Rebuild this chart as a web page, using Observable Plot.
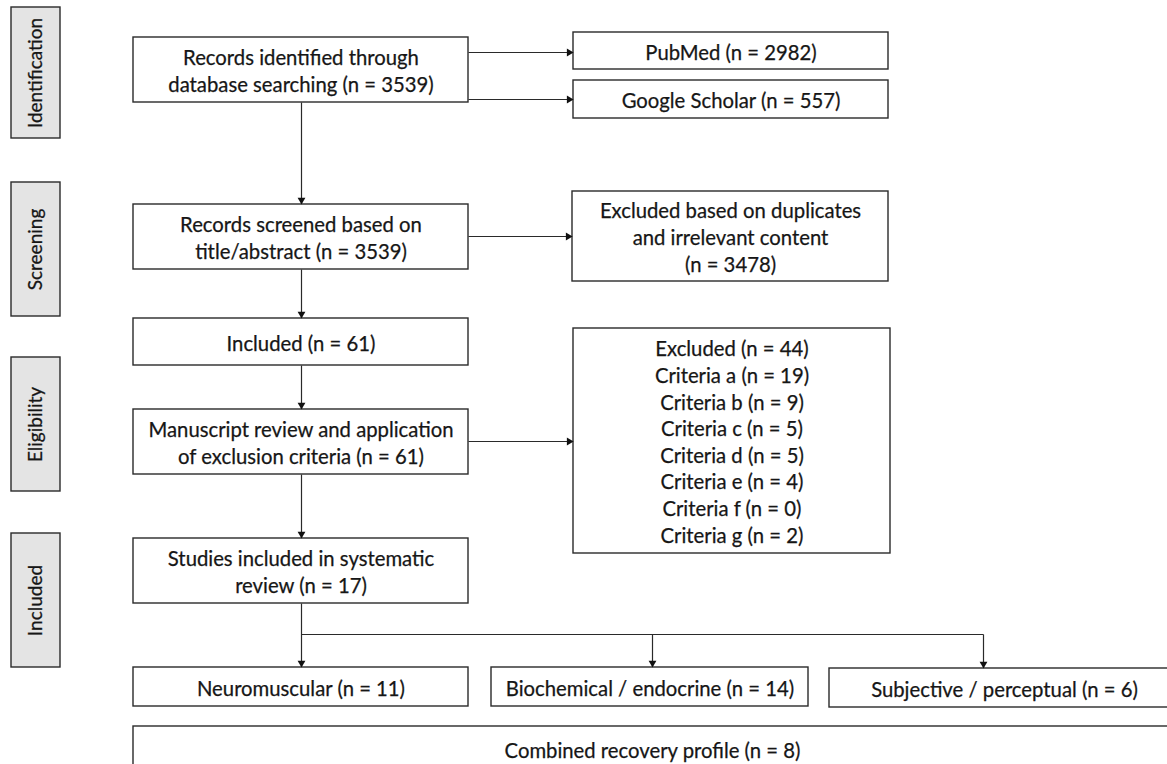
<!DOCTYPE html>
<html>
<head>
<meta charset="utf-8">
<script src="https://cdn.jsdelivr.net/npm/d3@7"></script>
<script src="https://cdn.jsdelivr.net/npm/@observablehq/plot@0.6"></script>
<style>
  html, body { margin: 0; padding: 0; background: #fff; overflow: hidden; }
  #chart svg { overflow: hidden; display: block; }
</style>
</head>
<body>
<div id="chart"></div>
<script>
// ---- Data (text & counts) ----
const stageLabels = ["Identification", "Screening", "Eligibility", "Included"];
const nIdentified = 3539, nPubMed = 2982, nScholar = 557;
const nScreened = 3539, nExcludedDup = 3478;
const nIncluded = 61, nManuscript = 61, nExcluded = 44;
const criteriaNames = ["a", "b", "c", "d", "e", "f", "g"];
const criteriaCounts = [19, 9, 5, 5, 4, 0, 2];
const nStudies = 17;
const outcomeNames = ["Neuromuscular", "Biochemical / endocrine", "Subjective / perceptual"];
const outcomeCounts = [11, 14, 6];
const nCombined = 8;

const boxTexts = [
  `Records identified through\ndatabase searching (n = ${nIdentified})`,
  `PubMed (n = ${nPubMed})`,
  `Google Scholar (n = ${nScholar})`,
  `Records screened based on\ntitle/abstract (n = ${nScreened})`,
  `Excluded based on duplicates\nand irrelevant content\n(n = ${nExcludedDup})`,
  `Included (n = ${nIncluded})`,
  `Manuscript review and application\nof exclusion criteria (n = ${nManuscript})`,
  [`Excluded (n = ${nExcluded})`, ...criteriaNames.map((c, i) => `Criteria ${c} (n = ${criteriaCounts[i]})`)].join("\n"),
  `Studies included in systematic\nreview (n = ${nStudies})`,
  ...outcomeNames.map((o, i) => `${o} (n = ${outcomeCounts[i]})`),
  `Combined recovery profile (n = ${nCombined})`
];

// ---- Layout (diagram space, pixels) ----
const W = 1167, H = 764;
const stageLayout = [[11, 7, 60, 138], [11, 182, 60, 316], [11, 357, 60, 491], [11, 533, 60, 667]];
// [x1, y1, x2, y2, textX?, textY?]
const boxLayout = [
  [133, 37, 468, 102],
  [573, 32, 888, 69],
  [573, 80, 888, 118],
  [133, 204, 468, 269],
  [572, 191, 888, 281],
  [133, 318, 468, 365],
  [133, 409, 468, 474],
  [573, 328, 890, 553],
  [133, 538, 468, 603],
  [133, 667, 468, 706],
  [491, 667, 808, 706],
  [829, 668, 1179, 707],
  [133, 726, 1171, 780, null, 749]
];
// connectors: [x1, y1, x2, y2, arrowhead?]
const linkLayout = [
  [468, 52, 573, 52, true],
  [468, 99, 573, 99, true],
  [301, 102, 301, 204, true],
  [468, 236, 572, 236, true],
  [301, 269, 301, 318, true],
  [301, 365, 301, 409, true],
  [468, 441, 573, 441, true],
  [301, 474, 301, 538, true],
  [301, 603, 301, 667, true],
  [301, 634, 983, 634, false],
  [652, 634, 652, 667, true],
  [983, 634, 983, 668, true]
];

const stages = stageLabels.map((s, i) => {
  const [x1, y1, x2, y2] = stageLayout[i];
  return {text: s, x1, y1, x2, y2, cx: (x1 + x2) / 2, cy: (y1 + y2) / 2};
});
const boxes = boxTexts.map((t, i) => {
  const [x1, y1, x2, y2, tx, ty] = boxLayout[i];
  return {text: t, x1, y1, x2, y2, cx: tx ?? (x1 + x2) / 2, cy: ty ?? (y1 + y2) / 2};
});
const links = linkLayout.map(([x1, y1, x2, y2, head]) => ({x1, y1, x2, y2, head}));
const tip = 4.4; // centroid-to-tip distance of triangle symbol
const heads = links.filter(d => d.head).map(d => {
  const horiz = d.y1 === d.y2;
  return horiz
    ? {x: d.x2 - tip, y: d.y2, rotate: 90}
    : {x: d.x2, y: d.y2 - tip, rotate: 180};
});

const font = "Lato, 'Open Sans', sans-serif";
const ink = "#161616";
const edge = "#2a2a2a";

const chart = Plot.plot({
  width: W,
  height: H,
  margin: 0,
  x: {domain: [0, W], range: [0, W], axis: null},
  y: {domain: [0, H], range: [0, H], axis: null},
  style: {fontFamily: font, background: "#fff"},
  marks: [
    Plot.rect(stages, {x1: "x1", x2: "x2", y1: "y1", y2: "y2", fill: "#e4e4e4", stroke: edge, strokeWidth: 1.4}),
    Plot.text(stages, {x: "cx", y: "cy", text: "text", rotate: -90, fontSize: 19, fill: ink, stroke: ink, strokeWidth: 0.25}),
    Plot.link(links, {x1: "x1", y1: "y1", x2: "x2", y2: "y2", stroke: edge, strokeWidth: 1.2}),
    Plot.rect(boxes, {x1: "x1", x2: "x2", y1: "y1", y2: "y2", fill: "#fff", stroke: edge, strokeWidth: 1.4}),
    Plot.text(boxes, {x: "cx", y: "cy", text: "text", fontSize: 20.3, lineHeight: 1.31, fill: ink, stroke: ink, strokeWidth: 0.25}),
    Plot.dot(heads, {x: "x", y: "y", rotate: "rotate", symbol: "triangle", r: 2.9, fill: "#111", stroke: null})
  ]
});
document.getElementById("chart").append(chart);
</script>
</body>
</html>
